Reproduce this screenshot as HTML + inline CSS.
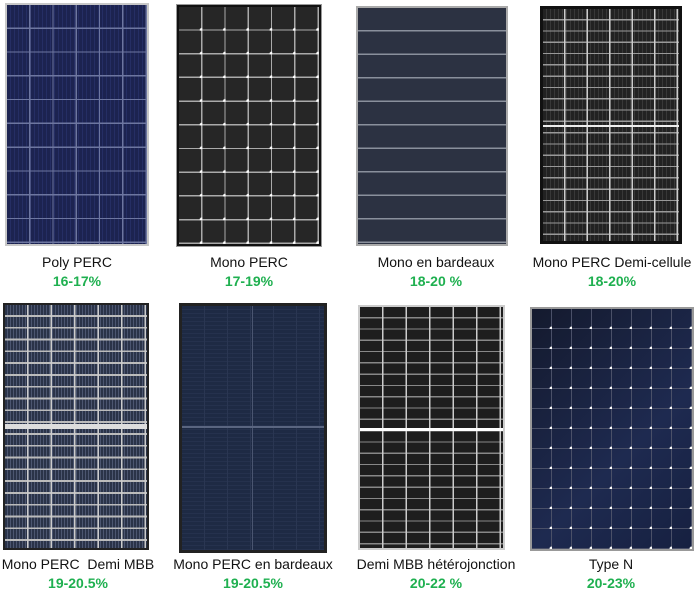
<!DOCTYPE html>
<html><head><meta charset="utf-8"><style>
body{margin:0;width:700px;height:596px;background:#fff;position:relative;overflow:hidden;font-family:"Liberation Sans",sans-serif}
.p{position:absolute;box-sizing:border-box}
.l{position:absolute;width:200px;text-align:center;font-size:14px;color:#111}
.g{position:absolute;width:200px;text-align:center;font-size:14px;font-weight:bold;color:#1fb050}
</style></head><body>
<!-- P1 poly -->
<div class="p" style="left:5px;top:3px;width:144px;height:243px;border:2px solid #c8c8c8;background:
repeating-linear-gradient(90deg,transparent 0 22px,#6d76a0 22px 23.3px),
repeating-linear-gradient(180deg,transparent 0 22.5px,#6d76a0 22.5px 23.8px),
repeating-linear-gradient(90deg,#1c2350 0 3px,#252e64 3px 4px)"></div>
<!-- P2 mono -->
<div class="p" style="left:177px;top:5px;width:144px;height:241px;border:2px solid #111;outline:1px solid #999;background:
radial-gradient(circle at 22.6px 22.9px,#fff 1.6px,transparent 2.2px) 0 0/23.3px 23.7px,
repeating-linear-gradient(90deg,transparent 0 22px,#aaa 22px 23.3px),
repeating-linear-gradient(180deg,transparent 0 22.3px,#aaa 22.3px 23.7px),#262626"></div>
<!-- P3 shingled -->
<div class="p" style="left:356px;top:6px;width:152px;height:240px;border:2px solid #aaa;background:
repeating-linear-gradient(180deg,#2c3242 0 22px,#8a909c 22px 23.5px),#2c3242"></div>
<!-- P4 half-cell -->
<div class="p" style="left:540px;top:6px;width:142px;height:238px;border:3px solid #111;background:
linear-gradient(180deg,transparent 0 116px,#eee 116px 118px,transparent 118px),
repeating-linear-gradient(90deg,transparent 0 21px,#ccc 21px 22.5px),
repeating-linear-gradient(180deg,transparent 0 10px,#999 10px 11.3px),
repeating-linear-gradient(90deg,#222 0 3px,#383838 3px 4px)"></div>
<!-- P5 half MBB -->
<div class="p" style="left:3px;top:303px;width:146px;height:247px;border:2px solid #222;background:
linear-gradient(180deg,transparent 0 119px,#ddd 119px 124px,transparent 124px),
repeating-linear-gradient(90deg,transparent 0 22px,#ccc 22px 23.5px),
repeating-linear-gradient(180deg,transparent 0 10px,#bbb 10px 11.8px),
repeating-linear-gradient(90deg,#2a3348 0 2px,#4c5670 2px 3px)"></div>
<!-- P6 shingled half -->
<div class="p" style="left:179px;top:303px;width:148px;height:250px;border:3px solid #222;outline:2px solid #fff;background:
linear-gradient(180deg,transparent 0 120px,#5a6580 120px 122px,transparent 122px),
linear-gradient(90deg,transparent 0 70px,#4a5570 70px 71px,transparent 71px),
repeating-linear-gradient(90deg,transparent 0 22px,#2a3652 22px 23px),
repeating-linear-gradient(180deg,#1e2a44 0 3px,#25314d 3px 4px)"></div>
<!-- P7 heterojunction -->
<div class="p" style="left:358px;top:305px;width:147px;height:245px;border:2px solid #ccc;background:
linear-gradient(180deg,transparent 0 121px,#fff 121px 124px,transparent 124px),
repeating-linear-gradient(90deg,transparent 0 22px,#ccc 22px 23.5px),
repeating-linear-gradient(180deg,transparent 0 10px,#888 10px 11.3px),#1e1e1e"></div>
<!-- P8 type N -->
<div class="p" style="left:530px;top:307px;width:164px;height:244px;border:2px solid #999;background:
radial-gradient(circle at 19.5px 19.5px,#fff 1.6px,transparent 2.3px) 0 0/20px 20px,
repeating-linear-gradient(90deg,transparent 0 19px,#4a5068 19px 20px),
repeating-linear-gradient(180deg,transparent 0 19px,#4a5068 19px 20px),
linear-gradient(135deg,#141a2e,#1e2a50 60%,#162040)"></div>

<div class="l" style="left:-23px;top:254px">Poly PERC</div>
<div class="g" style="left:-23px;top:273px">16-17%</div>
<div class="l" style="left:149px;top:254px">Mono PERC</div>
<div class="g" style="left:149px;top:273px">17-19%</div>
<div class="l" style="left:336px;top:254px">Mono en bardeaux</div>
<div class="g" style="left:336px;top:273px">18-20 %</div>
<div class="l" style="left:512px;top:254px">Mono PERC Demi-cellule</div>
<div class="g" style="left:512px;top:273px">18-20%</div>
<div class="l" style="left:-22px;top:556px">Mono PERC &nbsp;Demi MBB</div>
<div class="g" style="left:-22px;top:575px">19-20.5%</div>
<div class="l" style="left:153px;top:556px">Mono PERC en bardeaux</div>
<div class="g" style="left:153px;top:575px">19-20.5%</div>
<div class="l" style="left:336px;top:556px">Demi MBB hétérojonction</div>
<div class="g" style="left:336px;top:575px">20-22 %</div>
<div class="l" style="left:511px;top:556px">Type N</div>
<div class="g" style="left:511px;top:575px">20-23%</div>
</body></html>
